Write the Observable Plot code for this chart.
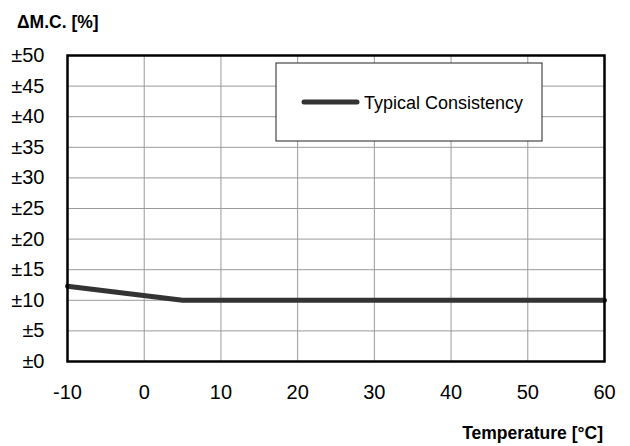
<!DOCTYPE html>
<html>
<head>
<meta charset="utf-8">
<script src="https://cdn.jsdelivr.net/npm/d3@7"></script>
<script src="https://cdn.jsdelivr.net/npm/@observablehq/plot@0.6"></script>
<style>
  html, body { margin: 0; padding: 0; background: #fff; }
  #chart svg { display: block; }
</style>
</head>
<body>
<div id="chart"></div>
<script>
// Data
const temperatures = [-10, 5, 60];
const deltaMC = [12.3, 10, 10];
const xTicks = [-10, 0, 10, 20, 30, 40, 50, 60];
const yTicks = [0, 5, 10, 15, 20, 25, 30, 35, 40, 45, 50];
const seriesName = "Typical Consistency";
const yTitle = "ΔM.C. [%]";
const xTitle = "Temperature [°C]";

const data = temperatures.map((t, i) => ({ t, v: deltaMC[i] }));

const W = 630, H = 446;
const mL = 67, mR = 26, mT = 55, mB = 85;
const font = "'Liberation Sans', Arial, sans-serif";

const chart = Plot.plot({
  width: W,
  height: H,
  marginLeft: mL,
  marginRight: mR,
  marginTop: mT,
  marginBottom: mB,
  style: { fontFamily: font, fontSize: "20px", background: "#fff", color: "#000", overflow: "visible" },
  x: { domain: [-10, 60], label: null },
  y: { domain: [0, 50], label: null },
  marks: [
    Plot.gridX(xTicks, { stroke: "#9a9a9a", strokeOpacity: 1, strokeWidth: 1 }),
    Plot.gridY(yTicks, { stroke: "#9a9a9a", strokeOpacity: 1, strokeWidth: 1 }),
    Plot.axisX(xTicks, { tickSize: 0, tickPadding: 23, fontSize: 20, label: null, tickFormat: d => String(d) }),
    Plot.axisY(yTicks, { tickSize: 0, tickPadding: 23, fontSize: 20, label: null, tickFormat: d => "±" + d }),
    Plot.line(data, { x: "t", y: "v", stroke: "#333", strokeWidth: 5, strokeLinejoin: "round" }),
    Plot.frame({ stroke: "#000", strokeWidth: 2.5 })
  ]
});

document.getElementById("chart").appendChild(chart);

const svg = d3.select(chart);

// Axis titles
svg.append("text")
  .attr("x", 17).attr("y", 28)
  .attr("text-anchor", "start")
  .attr("font-family", font).attr("font-size", 17.5).attr("font-weight", "bold")
  .attr("fill", "#000")
  .text(yTitle);

svg.append("text")
  .attr("x", 603).attr("y", 439)
  .attr("text-anchor", "end")
  .attr("font-family", font).attr("font-size", 17.5).attr("font-weight", "bold")
  .attr("fill", "#000")
  .text(xTitle);

// Legend box
const lg = svg.append("g");
lg.append("rect")
  .attr("x", 276).attr("y", 63).attr("width", 266).attr("height", 78)
  .attr("fill", "#fff").attr("stroke", "#222").attr("stroke-width", 1);
lg.append("line")
  .attr("x1", 304).attr("x2", 357).attr("y1", 102).attr("y2", 102)
  .attr("stroke", "#333").attr("stroke-width", 5).attr("stroke-linecap", "round");
lg.append("text")
  .attr("x", 364).attr("y", 109)
  .attr("text-anchor", "start")
  .attr("font-family", font).attr("font-size", 18)
  .attr("fill", "#000")
  .text(seriesName);
</script>
</body>
</html>
